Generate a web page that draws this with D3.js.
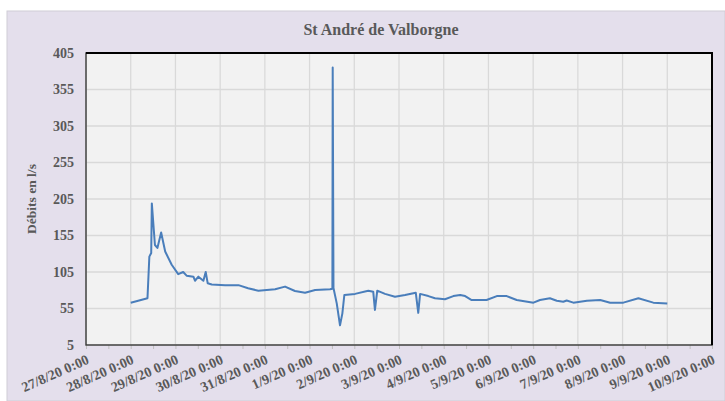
<!DOCTYPE html>
<html>
<head>
<meta charset="utf-8">
<script src="https://cdnjs.cloudflare.com/ajax/libs/d3/7.8.5/d3.min.js"></script>
<style>
  body { margin: 0; background: #fff; }
  #chart { width: 725px; height: 401px; }
</style>
</head>
<body>
<div id="chart"></div>
<script>

// date/heure des mesures
var times = [
  "28/8/20 00:00", "28/8/20 09:00", "28/8/20 10:00", "28/8/20 11:00", "28/8/20 11:20",
  "28/8/20 13:00", "28/8/20 14:20", "28/8/20 16:20", "28/8/20 18:30", "28/8/20 22:00",
  "29/8/20 01:30", "29/8/20 04:10", "29/8/20 06:00", "29/8/20 09:40", "29/8/20 10:30",
  "29/8/20 12:20", "29/8/20 15:00", "29/8/20 16:15", "29/8/20 17:20", "29/8/20 19:30",
  "30/8/20 02:40", "30/8/20 09:50", "30/8/20 15:00", "30/8/20 20:30", "31/8/20 05:30",
  "31/8/20 10:50", "31/8/20 16:10", "31/8/20 21:35", "1/9/20 03:00", "1/9/20 11:00",
  "1/9/20 12:15", "1/9/20 12:25", "1/9/20 12:50", "1/9/20 14:35", "1/9/20 16:20",
  "1/9/20 17:35", "1/9/20 18:40", "2/9/20 00:25", "2/9/20 07:30", "2/9/20 10:10",
  "2/9/20 11:05", "2/9/20 12:20", "2/9/20 16:30", "2/9/20 21:50", "3/9/20 03:15",
  "3/9/20 09:00", "3/9/20 10:20", "3/9/20 11:20", "3/9/20 15:45", "3/9/20 19:20",
  "4/9/20 00:40", "4/9/20 05:10", "4/9/20 08:50", "4/9/20 11:30", "4/9/20 15:00",
  "4/9/20 23:00", "5/9/20 04:30", "5/9/20 09:50", "5/9/20 15:10", "6/9/20 00:10",
  "6/9/20 03:40", "6/9/20 09:00", "6/9/20 12:40", "6/9/20 16:10", "6/9/20 18:00",
  "6/9/20 21:35", "7/9/20 04:50", "7/9/20 12:00", "7/9/20 17:20", "8/9/20 00:25",
  "8/9/20 08:30", "8/9/20 16:30", "9/9/20 00:00"
];

// débits en l/s
var debits = [
  63, 69, 126, 131, 199,
  142, 138, 159, 133, 115,
  102, 105, 100, 98.6, 93,
  98.6, 93, 105, 89.5, 88,
  87, 87, 82.7, 79.4, 81.3,
  85, 79, 76.6, 80.3, 81.3,
  82, 385, 83, 62, 32,
  48, 73.5, 75, 79.4, 78,
  53, 79.4, 75, 71, 73.5,
  76.6, 49, 75, 72, 69,
  67.6, 72, 73.5, 72, 66.6,
  66.6, 72, 72, 66.6, 63,
  66.6, 69, 65.7, 64.3, 66,
  63, 65.7, 66.6, 63, 63,
  69, 63, 62
];

var yTicks = [5, 55, 105, 155, 205, 255, 305, 355, 405];
var xStart = "27/8/20 00:00",
    xEnd = "10/9/20 00:00";

var title = "St André de Valborgne",
    yTitle = "Débits en l/s";

var parse = d3.timeParse("%d/%m/%y %H:%M"),
    fmt = d3.timeFormat("%-d/%-m/%y 0:00");

var W = 725, H = 401;
var margin = {top: 53, right: 13, bottom: 56, left: 86},
    width = W - margin.left - margin.right,
    height = H - margin.top - margin.bottom;

var root = d3.select("#chart").append("svg")
    .attr("width", W)
    .attr("height", H);

// fond du graphique
root.append("rect")
    .attr("x", 7).attr("y", 11)
    .attr("width", W - 7).attr("height", H - 11)
    .attr("fill", "#e4dfec")
    .attr("stroke", "#d0cdd6");

root.append("text")
    .attr("x", 381).attr("y", 35)
    .text(title)
    .style("text-anchor", "middle")
    .attr("font-family", "Liberation Serif")
    .attr("font-weight", "bold")
    .attr("font-size", "16px")
    .attr("fill", "#595959");

root.append("text")
    .attr("transform", "translate(36," + (margin.top + height / 2) + ") rotate(-90)")
    .text(yTitle)
    .style("text-anchor", "middle")
    .attr("font-family", "Liberation Serif")
    .attr("font-weight", "bold")
    .attr("font-size", "13.5px")
    .attr("fill", "#595959");

var svg = root.append("g")
    .attr("transform", "translate(" + margin.left + "," + margin.top + ")");

var x = d3.scaleTime().domain([parse(xStart), parse(xEnd)]).range([0, width]),
    y = d3.scaleLinear().domain([5, 405]).range([height, 0]);

svg.append("rect")
    .attr("width", width)
    .attr("height", height)
    .attr("fill", "#f2f2f2");

// quadrillage
svg.append("g")
    .attr("class", "grid-y")
  .selectAll("line")
  .data(yTicks)
  .enter().append("line")
    .attr("x1", 0).attr("x2", width)
    .attr("y1", function(d) { return y(d); })
    .attr("y2", function(d) { return y(d); })
    .attr("stroke", "#d9d9d9")
    .attr("stroke-width", 1.3);

var days = d3.timeDay.range(parse(xStart), d3.timeDay.offset(parse(xEnd), 1));

svg.append("g")
    .attr("class", "grid-x")
  .selectAll("line")
  .data(days)
  .enter().append("line")
    .attr("x1", function(d) { return x(d); })
    .attr("x2", function(d) { return x(d); })
    .attr("y1", 0).attr("y2", height)
    .attr("stroke", "#d9d9d9")
    .attr("stroke-width", 1.3);

// graduations toutes les 12h
svg.append("g")
    .attr("transform", "translate(0," + height + ")")
    .call(d3.axisBottom(x).ticks(d3.timeHour.every(12)).tickSize(4).tickFormat(""))
    .call(function(g) { g.select(".domain").remove(); })
    .selectAll("line").attr("stroke", "#bfbfbf");

var line = d3.line()
    .x(function(d, i) { return x(parse(times[i])); })
    .y(function(d) { return y(d); });

svg.append("path")
    .datum(debits)
    .attr("d", line)
    .attr("fill", "none")
    .attr("stroke", "#4a7ebb")
    .attr("stroke-width", 2)
    .attr("stroke-linejoin", "round");

svg.append("rect")
    .attr("width", width)
    .attr("height", height)
    .attr("fill", "none")
    .attr("stroke", "#3a3a3a")
    .attr("stroke-width", 1.4);

// bord haut et droit plus marqué
svg.append("path")
    .attr("d", "M0,0H" + width + "V" + height)
    .attr("fill", "none")
    .attr("stroke", "#000")
    .attr("stroke-width", 2);

// axe y
svg.append("g")
    .attr("class", "y-axis")
    .call(d3.axisLeft(y).tickValues(yTicks).tickSize(0).tickPadding(12))
    .call(function(g) { g.select(".domain").remove(); })
    .selectAll("text")
      .attr("font-family", "Liberation Serif")
      .attr("font-weight", "bold")
      .attr("font-size", "14px")
      .attr("fill", "#595959");

// axe x, étiquettes inclinées
svg.append("g")
    .attr("class", "x-axis")
  .selectAll("text")
  .data(days.filter(function(d) { return d <= parse(xEnd); }))
  .enter().append("text")
    .attr("transform", function(d) { return "translate(" + (x(d) + 4) + "," + (height + 18) + ") rotate(-24)"; })
    .text(function(d) { return fmt(d); })
    .style("text-anchor", "end")
    .attr("font-family", "Liberation Serif")
    .attr("font-weight", "bold")
    .attr("font-size", "14px")
    .attr("fill", "#595959");

</script>
</body>
</html>
